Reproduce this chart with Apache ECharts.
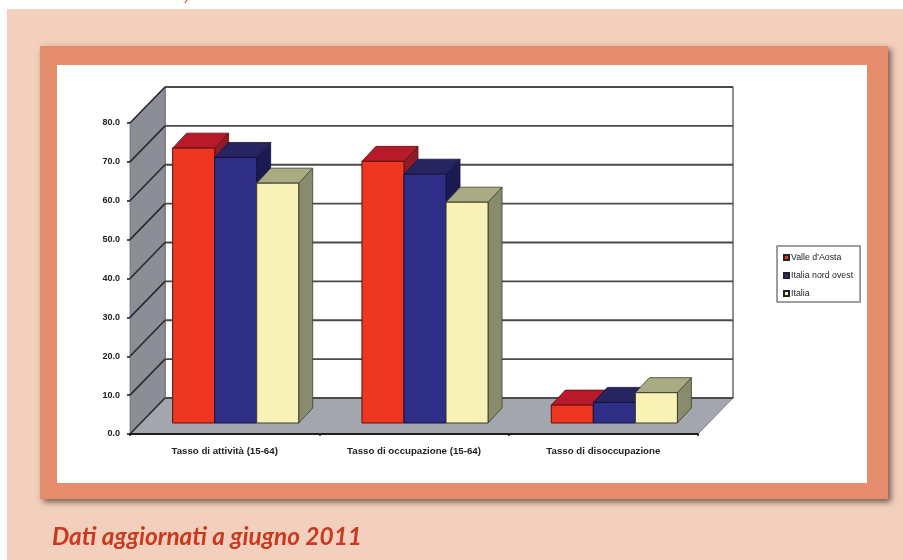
<!DOCTYPE html>
<html><head><meta charset="utf-8">
<style>html,body{margin:0;padding:0;background:#fff}#c{width:903px;height:560px;filter:blur(0.5px)}</style>
<script src="https://cdn.jsdelivr.net/npm/echarts@6/dist/echarts.min.js"></script>
</head><body><div id="c"></div>
<script>
var categories = ['Tasso di attività (15-64)', 'Tasso di occupazione (15-64)', 'Tasso di disoccupazione'];
var valleAosta = [70.7, 67.3, 4.6];
var nordOvest = [68.3, 64.0, 5.3];
var italia = [61.7, 56.8, 7.8];
var yTicks = [0, 10, 20, 30, 40, 50, 60, 70, 80];
var footnote = 'Dati aggiornati a giugno 2011';

var WALL = {dx: 35, dy: -36};
var BAR_DEPTH = {dx: 14, dy: -15};
var BAR_INSET = {dx: 11, dy: -11};

function poly(points, fill, stroke, lw) {
  return {type: 'polygon', shape: {points: points},
    style: {fill: fill, stroke: stroke, lineWidth: lw == null ? 0.8 : lw, lineJoin: 'round'}};
}

function renderWalls(params, api) {
  var v = api.value(0);
  var r = params.coordSys;
  var left = r.x, right = r.x + r.width;
  var y = api.coord([0, v])[1];
  var kids = [];
  if (params.dataIndex === 0) {
    var top = r.y, bot = r.y + r.height;
    kids.push(poly([[left + WALL.dx, top + WALL.dy], [right + WALL.dx, top + WALL.dy], [right + WALL.dx, bot + WALL.dy], [left + WALL.dx, bot + WALL.dy]], '#ffffff', '#444', 1.2));
    kids.push(poly([[left, top], [left + WALL.dx, top + WALL.dy], [left + WALL.dx, bot + WALL.dy], [left, bot]], '#8b8d97', '#6d6f78', 0.8));
    kids.push(poly([[left, bot], [right, bot], [right + WALL.dx, bot + WALL.dy], [left + WALL.dx, bot + WALL.dy]], '#a3a6ac', '#777', 0.8));
  }
  kids.push({type: 'line', shape: {x1: left, y1: y, x2: left + WALL.dx, y2: y + WALL.dy},
    style: {stroke: '#2a2a2e', lineWidth: 1.6}});
  kids.push({type: 'line', shape: {x1: left + WALL.dx, y1: y + WALL.dy, x2: right + WALL.dx, y2: y + WALL.dy},
    style: {stroke: '#4a4a4a', lineWidth: 1.8}});
  return {type: 'group', children: kids};
}

function barRenderer(order, face, top, side, edge) {
  return function (params, api) {
    var i = api.value(0), p = api.coord([i, api.value(1)]), base = api.coord([i, 0]);
    var w = api.size([1, 0])[0] * 0.222;
    var x0 = p[0] + BAR_INSET.dx + (order - 1.5) * w, x1 = x0 + w;
    var y0 = p[1] + BAR_INSET.dy, y1 = base[1] + BAR_INSET.dy;
    var dx = BAR_DEPTH.dx, dy = BAR_DEPTH.dy;
    return {type: 'group', children: [
      poly([[x1, y0], [x1 + dx, y0 + dy], [x1 + dx, y1 + dy], [x1, y1]], side, edge),
      poly([[x0, y0], [x0 + dx, y0 + dy], [x1 + dx, y0 + dy], [x1, y0]], top, edge),
      poly([[x0, y0], [x1, y0], [x1, y1], [x0, y1]], face, edge, 1)
    ]};
  };
}

function barSeries(name, values, order, face, top, side, edge) {
  return {
    type: 'custom', name: name, z: 3 + order, coordinateSystem: 'cartesian2d', silent: true,
    itemStyle: {color: face, borderColor: '#222', borderWidth: 0.6},
    encode: {x: 0, y: 1},
    data: values.map(function (v, i) { return [i, v]; }),
    renderItem: barRenderer(order, face, top, side, edge)
  };
}

var chart = echarts.init(document.getElementById('c'), null, {renderer: 'canvas', width: 903, height: 560});
chart.setOption({
  animation: false,
  backgroundColor: '#ffffff',
  graphic: {elements: [
    {type: 'rect', z: -20, shape: {x: 7, y: 9, width: 896, height: 551}, style: {fill: '#f3d0bd'}},
    {type: 'line', z: -19, shape: {x1: 187, y1: 0, x2: 185, y2: 3}, style: {stroke: '#e0442a', lineWidth: 1.2}},
    {type: 'rect', z: -18, shape: {x: 40, y: 46, width: 848, height: 453},
      style: {fill: '#e58c6c', shadowBlur: 6, shadowOffsetX: 3, shadowOffsetY: 3, shadowColor: 'rgba(70,50,40,0.75)'}},
    {type: 'rect', z: -17, shape: {x: 57, y: 65, width: 810, height: 418}, style: {fill: '#ffffff'}}
  ]},
  title: {
    text: footnote, left: 47, top: 520,
    textStyle: {fontFamily: 'Lato', fontStyle: 'italic', fontWeight: 'bold', fontSize: 24.4, color: '#c9391f'}
  },
  legend: {
    data: ["Valle d'Aosta", 'Italia nord ovest', 'Italia'],
    orient: 'vertical', left: 777, top: 246, padding: [7, 7, 4, 6],
    icon: 'rect', itemWidth: 5, itemHeight: 5, itemGap: 9,
    borderColor: '#808080', borderWidth: 1.5, backgroundColor: '#fff',
    textStyle: {fontFamily: 'Liberation Sans', fontSize: 8.8, color: '#222', padding: [0, 0, 0, -3]}
  },
  grid: {left: 130, right: 205, top: 123, bottom: 126, containLabel: false},
  xAxis: {
    type: 'category', data: categories, z: 6,
    axisLine: {lineStyle: {color: '#1c1c1c', width: 2}},
    axisTick: {show: true, length: 2, lineStyle: {color: '#111', width: 1.5}},
    axisLabel: {margin: 12, fontFamily: 'Liberation Sans', fontWeight: 'bold', fontSize: 9.7, color: '#222', interval: 0}
  },
  yAxis: {
    type: 'value', min: 0, max: 80, interval: 10, z: 6,
    axisLine: {show: false},
    axisTick: {show: true, length: 3, lineStyle: {color: '#111', width: 1.5}},
    splitLine: {show: false},
    axisLabel: {margin: 10, fontFamily: 'Liberation Sans', fontWeight: 'bold', fontSize: 9, color: '#222',
      formatter: function (v) { return v.toFixed(1); }}
  },
  series: [
    {type: 'custom', name: 'walls', z: 1, silent: true, coordinateSystem: 'cartesian2d',
      encode: {y: 0}, data: yTicks.map(function (v) { return [v]; }), renderItem: renderWalls, clip: false},
    barSeries("Valle d'Aosta", valleAosta, 0, '#ee3620', '#b81a2a', '#8f1a2a', '#5c1010'),
    barSeries('Italia nord ovest', nordOvest, 1, '#2f2e86', '#26255f', '#1b1a55', '#14143c'),
    barSeries('Italia', italia, 2, '#f8f2b6', '#a9ab82', '#888c6d', '#3c3d2c')
  ]
});
</script></body></html>
